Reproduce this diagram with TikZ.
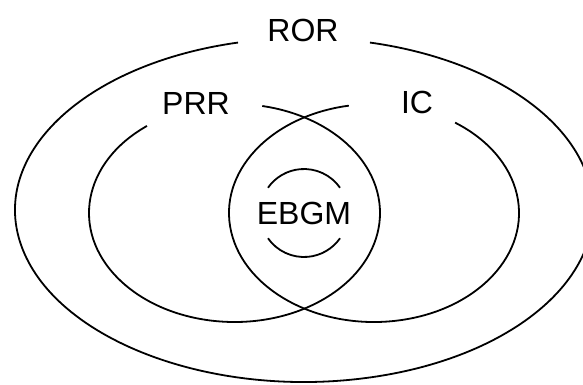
\documentclass[tikz,border=0pt]{standalone}
\usepackage{fontspec}
\setmainfont{Liberation Sans}
\begin{document}
\begin{tikzpicture}[x=1pt,y=1pt,
  setline/.style={line width=1.8pt, black},
  setlabel/.style={inner sep=0pt, font=\fontsize{32}{38}\selectfont}]
\clip (0,0) rectangle (583,384);
\useasboundingbox (0,0) rectangle (583,384);

% outer set: ROR
\draw[setline] (304,174) ++(103.2:289 and 172)
  arc[start angle=103.2, end angle=436.8, x radius=289, y radius=172];
% left set: PRR
\draw[setline] (234.5,171) ++(127:145.5 and 109)
  arc[start angle=127, end angle=439, x radius=145.5, y radius=109];
% right set: IC
\draw[setline] (374,171) ++(100:145 and 109)
  arc[start angle=100, end angle=416, x radius=145, y radius=109];
% inner set: EBGM, broken at both sides of its label
\draw[setline] (304,171) ++(35:44) arc[start angle=35, end angle=145, radius=44];
\draw[setline] (304,171) ++(215:44) arc[start angle=215, end angle=325, radius=44];

\node[setlabel] (ror)  at (303,353.5) {ROR};
\node[setlabel] (prr)  at (196,280.5) {PRR};
\node[setlabel] (ic)   at (417,282)   {IC};
\node[setlabel] (ebgm) at (304,170.5) {EBGM};
\end{tikzpicture}
\end{document}
